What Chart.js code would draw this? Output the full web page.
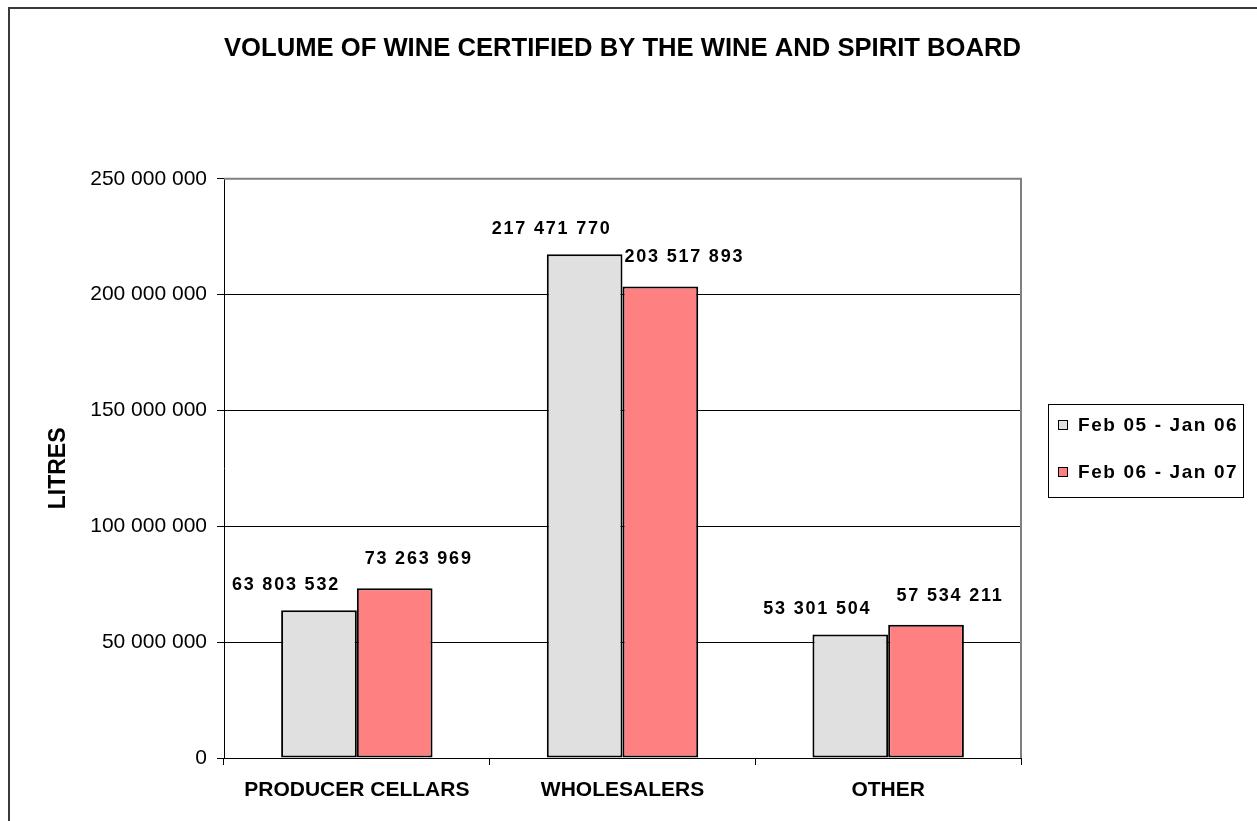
<!DOCTYPE html>
<html>
<head>
<meta charset="utf-8">
<title>Volume of wine certified</title>
<script src="https://cdn.jsdelivr.net/npm/chart.js@4/dist/chart.umd.min.js"></script>
<style>
    html, body { margin: 0; padding: 0; background: #fff; overflow: hidden; }
    #wrap { position: relative; width: 1257px; height: 821px; }
    #wineChart { display: block; }
    /* outer chart frame, only left and top edges fall inside the picture */
    #frame {
        position: absolute; left: 8px; top: 7px; width: 1400px; height: 1000px;
        border-left: 2px solid #3a3a3a; border-top: 2px solid #3a3a3a;
        pointer-events: none;
    }
</style>
</head>
<body>
<div id="wrap">
    <canvas id="wineChart" width="1257" height="821"></canvas>
    <div id="frame"></div>
</div>
<script>
// data
const categories = ['PRODUCER CELLARS', 'WHOLESALERS', 'OTHER'];
const seriesNames = ['Feb 05 - Jan 06', 'Feb 06 - Jan 07'];
const litres0506 = [63803532, 217471770, 53301504];
const litres0607 = [73263969, 203517893, 57534211];
const yTicks = [0, 50000000, 100000000, 150000000, 200000000, 250000000];
const seriesColors = ['#e0e0e0', '#ff8080'];

const FONT = "'Liberation Sans', Arial, sans-serif";

function spaced(v) {
    return v.toString().replace(/\B(?=(\d{3})+(?!\d))/g, ' ');
}

// value labels above each bar, Excel puts them a bit off-centre
const valueLabels = {
    id: 'valueLabels',
    afterDatasetsDraw(chart) {
        const ctx = chart.ctx;
        const shiftX = [-33, 24];
        const rise = [25, 29];
        ctx.save();
        ctx.font = 'bold 18px ' + FONT;
        ctx.letterSpacing = '1.8px';
        ctx.fillStyle = '#000';
        ctx.textAlign = 'center';
        ctx.textBaseline = 'middle';
        chart.data.datasets.forEach((ds, di) => {
            chart.getDatasetMeta(di).data.forEach((bar, i) => {
                ctx.fillText(spaced(ds.data[i]), bar.x + shiftX[di], bar.y - rise[di]);
            });
        });
        ctx.restore();
    }
};

// gray plot border on top and right, plus the boxed legend
const frameAndLegend = {
    id: 'frameAndLegend',
    afterDraw(chart) {
        const ctx = chart.ctx;
        const area = chart.chartArea;
        ctx.save();
        ctx.strokeStyle = '#808080';
        ctx.lineWidth = 2;
        ctx.beginPath();
        ctx.moveTo(area.left, area.top);
        ctx.lineTo(area.right, area.top);
        ctx.lineTo(area.right, area.bottom);
        ctx.stroke();

        // legend box
        const left = area.right + 27;
        const top = 404;
        ctx.strokeStyle = '#000';
        ctx.lineWidth = 1;
        ctx.strokeRect(left + 0.5, top + 0.5, 195, 93);
        ctx.font = 'bold 19px ' + FONT;
        ctx.letterSpacing = '1.6px';
        ctx.textBaseline = 'middle';
        ctx.textAlign = 'left';
        chart.data.datasets.forEach((ds, di) => {
            const cy = top + 21 + di * 47;
            ctx.fillStyle = ds.backgroundColor;
            ctx.fillRect(left + 10, cy - 5, 10, 10);
            ctx.strokeStyle = '#000';
            ctx.strokeRect(left + 10.5, cy - 4.5, 9, 9);
            ctx.fillStyle = '#000';
            ctx.fillText(ds.label, left + 30, cy + 1);
        });
        ctx.restore();
    }
};

document.addEventListener('DOMContentLoaded', function() {
    const wineChart = new Chart(document.getElementById('wineChart'), {
        type: 'bar',
        data: {
            labels: categories,
            datasets: [{
                label: seriesNames[0],
                data: litres0506,
                backgroundColor: seriesColors[0],
                borderColor: '#000',
                borderWidth: 2,
                borderSkipped: false
            }, {
                label: seriesNames[1],
                data: litres0607,
                backgroundColor: seriesColors[1],
                borderColor: '#000',
                borderWidth: 2,
                borderSkipped: false
            }]
        },
        options: {
            responsive: false,
            animation: false,
            devicePixelRatio: 1,
            datasets: {
                bar: { barPercentage: 1, categoryPercentage: 0.57 }
            },
            layout: {
                padding: { top: 0, right: 236, bottom: 0, left: 0 }
            },
            scales: {
                x: {
                    afterFit: function(scale) { scale.height = 63; },
                    grid: {
                        offset: true,
                        drawOnChartArea: false,
                        color: '#000',
                        tickLength: 7
                    },
                    border: { color: '#000', width: 1 },
                    ticks: {
                        autoSkip: false,
                        maxRotation: 0,
                        padding: 13,
                        color: '#000',
                        font: { family: FONT, size: 21, weight: 'bold' }
                    }
                },
                y: {
                    min: yTicks[0],
                    max: yTicks[yTicks.length - 1],
                    afterFit: function(scale) { scale.width = 224; },
                    afterBuildTicks: function(scale) {
                        scale.ticks = yTicks.map(v => ({ value: v }));
                    },
                    grid: { color: '#000', lineWidth: 1, tickLength: 7 },
                    border: { color: '#000', width: 1 },
                    ticks: {
                        padding: 10,
                        color: '#000',
                        font: { family: FONT, size: 21 },
                        callback: function(value) { return spaced(value); }
                    },
                    title: {
                        display: true,
                        text: 'LITRES',
                        color: '#000',
                        padding: { top: 45, bottom: 0 },
                        font: { family: FONT, size: 23, weight: 'bold' }
                    }
                }
            },
            plugins: {
                legend: { display: false },
                tooltip: { enabled: false },
                title: {
                    display: true,
                    fullSize: false,
                    text: 'VOLUME OF WINE CERTIFIED BY THE WINE AND SPIRIT BOARD',
                    color: '#000',
                    padding: { top: 33, bottom: 114 },
                    font: { family: FONT, size: 26.5, weight: 'bold' }
                }
            }
        },
        plugins: [valueLabels, frameAndLegend]
    });
});
</script>
</body>
</html>
